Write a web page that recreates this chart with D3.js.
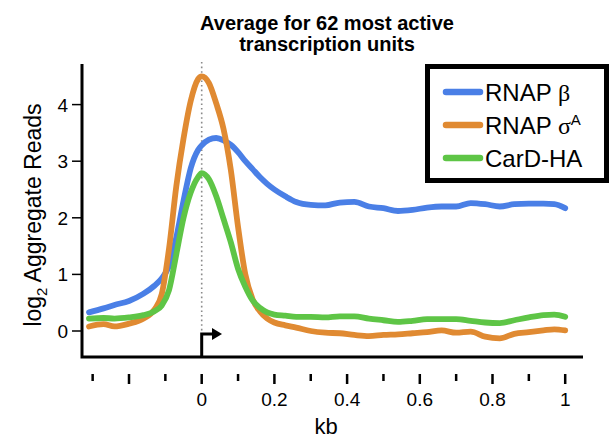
<!DOCTYPE html>
<html lang="en">
	<head>
	<meta charset="utf-8">
	<title>Average for 62 most active transcription units</title>
	<script src="https://d3js.org/d3.v7.min.js"></script>
	<style>
		body { margin: 0; background: #fff; }
		svg { font-family: "Liberation Sans", Arial, sans-serif; }
	</style>
</head>
	<body>
		<script type="text/javascript">

			//Width and height
			var w = 611;
			var h = 439;

			// distance from TSS (kb)
			var kb = [-0.31, -0.27, -0.24, -0.2, -0.16, -0.13, -0.11, -0.09, -0.07, -0.05,
			          -0.03, -0.01, 0, 0.02, 0.04, 0.06, 0.08, 0.10, 0.12, 0.14,
			          0.16, 0.18, 0.2, 0.23, 0.26, 0.3, 0.34, 0.38, 0.42, 0.46,
			          0.5, 0.54, 0.58, 0.62, 0.66, 0.70, 0.74, 0.78, 0.82, 0.86,
			          0.9, 0.94, 0.97, 1.0];

			// log2 aggregate reads
			var rnapBeta = [0.33, 0.40, 0.46, 0.53, 0.66, 0.80, 0.93, 1.15, 1.65, 2.3,
			                2.88, 3.2, 3.28, 3.38, 3.41, 3.37, 3.29, 3.16, 3.0, 2.86,
			                2.72, 2.6, 2.5, 2.38, 2.28, 2.23, 2.22, 2.27, 2.28, 2.20,
			                2.17, 2.12, 2.14, 2.18, 2.2, 2.2, 2.26, 2.24, 2.2, 2.24,
			                2.25, 2.25, 2.24, 2.17];
			var rnapSigma = [0.08, 0.12, 0.08, 0.13, 0.22, 0.38, 0.65, 1.45, 2.55, 3.4,
			                 4.07, 4.45, 4.5, 4.38, 4.02, 3.57, 2.85, 1.84, 1.0, 0.56,
			                 0.35, 0.22, 0.15, 0.1, 0.06, 0.0, -0.03, -0.04, -0.07, -0.09,
			                 -0.07, -0.06, -0.04, -0.02, 0.01, -0.03, -0.01, -0.1, -0.13, -0.05,
			                 -0.02, 0.01, 0.03, 0.01];
			var cardHA = [0.22, 0.23, 0.22, 0.24, 0.28, 0.35, 0.45, 0.72, 1.35, 2.0,
			              2.45, 2.72, 2.79, 2.68, 2.38, 1.98, 1.57, 1.1, 0.78, 0.54,
			              0.41, 0.33, 0.29, 0.27, 0.25, 0.25, 0.24, 0.26, 0.26, 0.22,
			              0.19, 0.16, 0.18, 0.21, 0.21, 0.21, 0.18, 0.15, 0.14, 0.19,
			              0.24, 0.28, 0.29, 0.25];

			// legend: plain part + greek symbol + superscript
			var seriesNames = ["RNAP ", "RNAP ", "CarD-HA"];
			var seriesGreek = ["\u03B2", "\u03C3", ""];
			var seriesSup = ["", "A", ""];
			var seriesColors = ["#4a7fe6", "#e08a32", "#5ec546"];

			var yTicks = [0, 1, 2, 3, 4];
			var xTicks = [-0.3, -0.2, -0.1, 0, 0.1, 0.2, 0.3, 0.4, 0.5, 0.6, 0.7, 0.8, 0.9, 1];
			var xTickLabels = [0, 0.2, 0.4, 0.6, 0.8, 1];

			// scales (pixel anchors)
			var x = d3.scaleLinear().domain([0, 1]).range([201.7, 565.2]);
			var y = d3.scaleLinear().domain([0, 4]).range([331, 104.6]);

			var axisLeft = 82, axisBottom = 357, axisTop = 64, axisRight = 583;

			//Create SVG element
			var svg = d3.select("body")
						.append("svg")
						.attr("width", w)
						.attr("height", h);

			// title
			svg.append("text")
			   .attr("x", 327).attr("y", 30)
			   .attr("text-anchor", "middle")
			   .attr("font-size", "20px").attr("font-weight", "bold")
			   .text("Average for 62 most active");
			svg.append("text")
			   .attr("x", 327).attr("y", 51)
			   .attr("text-anchor", "middle")
			   .attr("font-size", "20px").attr("font-weight", "bold")
			   .text("transcription units");

			// dotted TSS line
			svg.append("line")
			   .attr("x1", x(0)).attr("x2", x(0))
			   .attr("y1", 62).attr("y2", axisBottom)
			   .attr("stroke", "#8a8a8a")
			   .attr("stroke-width", 1.6)
			   .attr("stroke-dasharray", "1.6,3");

			// the curves
			var line = d3.line()
						 .x(function(d, i) { return x(kb[i]); })
						 .y(function(d) { return y(d); })
						 .curve(d3.curveMonotoneX);

			var allSeries = [rnapBeta, rnapSigma, cardHA];
			svg.selectAll("path.series")
			   .data(allSeries)
			   .enter()
			   .append("path")
			   .attr("class", "series")
			   .attr("d", line)
			   .attr("fill", "none")
			   .attr("stroke", function(d, i) { return seriesColors[i]; })
			   .attr("stroke-width", 5.8)
			   .attr("stroke-linecap", "round")
			   .attr("stroke-linejoin", "round");

			// axes lines
			svg.append("path")
			   .attr("d", "M" + axisLeft + "," + axisTop + "V" + axisBottom + "H" + axisRight)
			   .attr("fill", "none")
			   .attr("stroke", "#000")
			   .attr("stroke-width", 3);

			// y ticks + labels
			svg.selectAll("line.ytick")
			   .data(yTicks)
			   .enter()
			   .append("line")
			   .attr("x1", axisLeft - 10).attr("x2", axisLeft)
			   .attr("y1", function(d) { return y(d); })
			   .attr("y2", function(d) { return y(d); })
			   .attr("stroke", "#000").attr("stroke-width", 1.5);
			svg.selectAll("text.ylab")
			   .data(yTicks)
			   .enter()
			   .append("text")
			   .attr("x", axisLeft - 14)
			   .attr("y", function(d) { return y(d) + 7; })
			   .attr("text-anchor", "end")
			   .attr("font-size", "19px")
			   .text(function(d) { return d; });

			// x ticks (detached below the axis), majors a bit longer
			svg.selectAll("line.xtick")
			   .data(xTicks)
			   .enter()
			   .append("line")
			   .attr("x1", function(d) { return x(d); })
			   .attr("x2", function(d) { return x(d); })
			   .attr("y1", 374)
			   .attr("y2", function(d, i) { return (i % 2 == 1) ? 384 : 381; })
			   .attr("stroke", "#000").attr("stroke-width", 2.5);
			svg.selectAll("text.xlab")
			   .data(xTickLabels)
			   .enter()
			   .append("text")
			   .attr("x", function(d) { return x(d); })
			   .attr("y", 406)
			   .attr("text-anchor", "middle")
			   .attr("font-size", "19px")
			   .text(function(d) { return d; });

			svg.append("text")
			   .attr("x", 326).attr("y", 434)
			   .attr("text-anchor", "middle")
			   .attr("font-size", "22px")
			   .text("kb");

			// y axis title with subscript
			var yl = svg.append("text")
			   .attr("transform", "translate(41,215) rotate(-90)")
			   .attr("text-anchor", "middle")
			   .attr("font-size", "23px");
			yl.append("tspan").text("log");
			yl.append("tspan").attr("font-size", "15px").attr("dy", 6).text("2");
			yl.append("tspan").attr("dy", -6).text(" Aggregate Reads");

			// start arrow at TSS
			svg.append("path")
			   .attr("d", "M" + x(0) + "," + axisBottom + "V334H213")
			   .attr("fill", "none").attr("stroke", "#000").attr("stroke-width", 3);
			svg.append("path")
			   .attr("d", "M212,328L222,334L212,340Z")
			   .attr("fill", "#000");

			// legend
			var lg = svg.append("g");
			lg.append("rect")
			  .attr("x", 427.5).attr("y", 66.5)
			  .attr("width", 179).attr("height", 114)
			  .attr("fill", "#fff").attr("stroke", "#000").attr("stroke-width", 5);
			var legY = [92, 125, 158];
			lg.selectAll("line.leg")
			  .data(seriesNames)
			  .enter()
			  .append("line")
			  .attr("x1", 446).attr("x2", 480)
			  .attr("y1", function(d, i) { return legY[i]; })
			  .attr("y2", function(d, i) { return legY[i]; })
			  .attr("stroke", function(d, i) { return seriesColors[i]; })
			  .attr("stroke-width", 6.5)
			  .attr("stroke-linecap", "round");
			var lt = lg.selectAll("text.leg")
			  .data(seriesNames)
			  .enter()
			  .append("text")
			  .attr("x", 485)
			  .attr("y", function(d, i) { return legY[i] + 8.5; })
			  .attr("font-size", "24px");
			lt.append("tspan").text(function(d) { return d; });
			lt.append("tspan")
			  .attr("font-family", "'Liberation Serif', 'DejaVu Serif', serif")
			  .text(function(d, i) { return seriesGreek[i]; });
			lt.append("tspan")
			  .attr("font-size", "15px").attr("dy", -9)
			  .text(function(d, i) { return seriesSup[i]; });

		</script>
	</body>
</html>
